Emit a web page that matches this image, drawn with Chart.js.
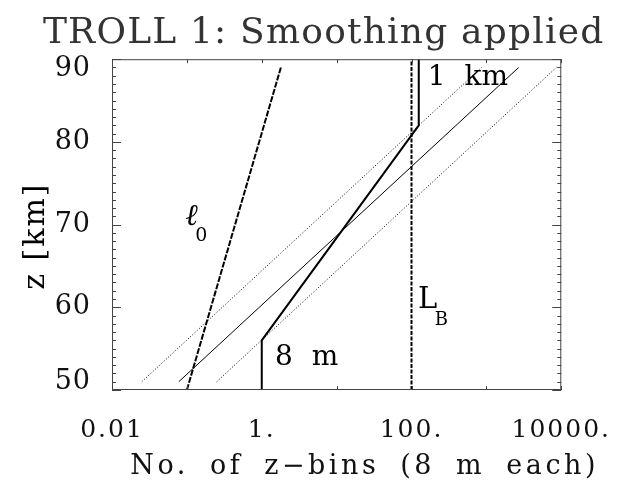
<!DOCTYPE html>
<html>
<head>
<meta charset="utf-8">
<script src="https://cdn.jsdelivr.net/npm/chart.js@4"></script>
<style>
  html, body { margin: 0; padding: 0; background: #fff; }
</style>
</head>
<body>
<canvas id="chart" width="622" height="483"></canvas>
<script>
// values: x = number of z-bins (log), y = altitude z in km
const xTickValues = [0.01, 1, 100, 10000];
const xTickLabels = ['0.01', '1.', '100.', '10000.'];
const xMajor = [0.01, 0.1, 1, 10, 100, 1000, 10000];
const zTicks = [50, 60, 70, 80, 90];
const xTitle = 'No. of z\u2212bins (8 m each)';

const l0N = [0.1, 1.8];          // l0 (dashed)
const l0Z = [50, 89];
const filterN = [1, 1, 125, 125]; // smoothing length, 8 m ... 1 km
const filterZ = [50, 56, 82, 90];
const lbN = [100, 100];          // L_B (dashed)
const lbZ = [50, 90];
const midN = [0.078, 2700];      // centre line
const lowN = [0.025, 860];       // dotted band
const highN = [0.25, 8600];
const bandZ = [51, 89];

// labels written inside the plot and where they sit (data coords)
const noteText = ['\u2113', '0', 'L', 'B', '8 m', '1 km'];
const noteN = [0.095, 0.129, 122, 205, 1.5, 165];
const noteZ = [69.9, 68.0, 59.9, 57.8, 53.0, 86.9];
const noteSize = [30, 19, 29, 18, 28, 28];

function pts(xs, ys) {
  return xs.map((x, i) => ({ x: x, y: ys[i] }));
}

const serif = '"DejaVu Serif", "Liberation Serif", serif';

// the old plot has wide lettering, so widen some texts
function spaced(obj, name, letter, word) {
  const orig = obj && obj[name];
  if (!orig || orig._spaced) return;
  const wrapped = function () {
    const c = this.ctx;
    c.save();
    c.letterSpacing = letter + 'px';
    c.wordSpacing = word + 'px';
    orig.apply(this, arguments);
    c.restore();
  };
  wrapped._spaced = true;
  obj[name] = wrapped;
}

const spacing = {
  id: 'spacing',
  beforeDraw(chart) {
    spaced(chart.titleBlock, 'draw', 1.2, 4);
    spaced(chart.scales.x, 'drawLabels', 2, 0);
    spaced(chart.scales.y, 'drawTitle', 2, 0);
    spaced(chart.scales.y, 'drawLabels', 1, 0);
  }
};

// frame, inward ticks, x title and text notes
const extras = {
  id: 'extras',
  afterDatasetsDraw(chart) {
    const ctx = chart.ctx;
    const a = chart.chartArea;
    const xs = chart.scales.x, ys = chart.scales.y;
    ctx.save();
    ctx.strokeStyle = '#444';
    ctx.lineWidth = 1;
    ctx.strokeRect(a.left + 0.5, a.top + 0.5, a.right - a.left - 1, a.bottom - a.top - 1);
    ctx.beginPath();
    xMajor.forEach(v => {
      const px = Math.round(xs.getPixelForValue(v)) + 0.5;
      ctx.moveTo(px, a.bottom); ctx.lineTo(px, a.bottom - 4);
      ctx.moveTo(px, a.top); ctx.lineTo(px, a.top + 4);
    });
    for (let z = 50; z <= 90; z++) {
      const py = Math.round(ys.getPixelForValue(z)) + 0.5;
      const len = (z % 10 === 0) ? 9 : 4;
      ctx.moveTo(a.left, py); ctx.lineTo(a.left + len, py);
      ctx.moveTo(a.right, py); ctx.lineTo(a.right - len, py);
    }
    ctx.stroke();

    ctx.fillStyle = '#000';
    ctx.textAlign = 'left';
    ctx.textBaseline = 'alphabetic';
    ctx.wordSpacing = '10px';
    noteText.forEach((t, i) => {
      const style = t === '\u2113' ? 'italic ' : '';
      ctx.font = style + noteSize[i] + 'px ' + serif;
      ctx.fillText(t, xs.getPixelForValue(noteN[i]), ys.getPixelForValue(noteZ[i]));
    });

    // x axis title, wide lettering and a bit right of centre like the original
    ctx.fillStyle = '#111';
    ctx.font = '27px ' + serif;
    ctx.letterSpacing = '3.5px';
    ctx.wordSpacing = '9px';
    ctx.textAlign = 'center';
    ctx.textBaseline = 'middle';
    ctx.fillText(xTitle, (a.left + a.right) / 2 + 28, a.bottom + 77);
    ctx.restore();
  }
};

const lineSet = (data, width, dash) => ({
  data: data,
  borderColor: '#000',
  borderWidth: width,
  borderDash: dash,
  pointRadius: 0,
  showLine: true,
  fill: false,
  tension: 0
});

// end labels of the z axis sit a little inside the frame in the original
function zLabel(v) {
  if (v === 90) return ['', '90'];
  if (v === 50) return ['50', ''];
  return String(v);
}
function zFont(c) {
  const v = c.tick ? c.tick.value : null;
  let lh = 1.2;
  if (v === 90) lh = '20px';
  if (v === 50) lh = '16px';
  return { family: serif, size: 27, lineHeight: lh };
}

new Chart(document.getElementById('chart'), {
  type: 'scatter',
  data: {
    datasets: [
      lineSet(pts(lowN, bandZ), 1, [1, 2]),
      lineSet(pts(highN, bandZ), 1, [1, 2]),
      lineSet(pts(midN, bandZ), 1, []),
      lineSet(pts(l0N, l0Z), 2, [6, 1.5]),
      lineSet(pts(lbN, lbZ), 2, [4, 1.5]),
      lineSet(pts(filterN, filterZ), 2, [])
    ]
  },
  options: {
    responsive: false,
    devicePixelRatio: 1,
    animation: false,
    layout: { padding: 0 },
    plugins: {
      legend: { display: false },
      tooltip: { enabled: false },
      title: {
        display: true,
        text: '  TROLL 1: Smoothing applied',
        color: '#333',
        font: { family: serif, size: 36, weight: 'normal' },
        padding: { top: 12, bottom: 4 }
      }
    },
    scales: {
      x: {
        type: 'logarithmic',
        min: 0.01,
        max: 10000,
        afterFit(s) { s.height = 93; },
        afterBuildTicks(s) { s.ticks = xTickValues.map(v => ({ value: v })); },
        grid: { display: false },
        border: { display: false },
        ticks: {
          autoSkip: false,
          maxRotation: 0,
          padding: 17,
          color: '#111',
          font: { family: serif, size: 25 },
          callback: (v) => {
            const i = xTickValues.indexOf(v);
            return i >= 0 ? xTickLabels[i] : '';
          }
        }
      },
      y: {
        min: 50,
        max: 90,
        afterFit(s) { s.width = 112; },
        afterBuildTicks(s) { s.ticks = zTicks.map(v => ({ value: v })); },
        grid: { display: false },
        border: { display: false },
        ticks: {
          padding: 13,
          color: '#111',
          font: zFont,
          callback: zLabel
        },
        title: {
          display: true,
          text: 'z [km]  ',
          color: '#000',
          font: { family: serif, size: 30 },
          padding: { top: 18, bottom: 0 }
        }
      },
      // empty strip on the right, same width as the original margin
      yRight: {
        position: 'right',
        min: 0,
        max: 1,
        afterFit(s) { s.width = 60; },
        grid: { display: false },
        border: { display: false },
        ticks: { display: false }
      }
    }
  },
  plugins: [spacing, extras]
});
</script>
</body>
</html>
